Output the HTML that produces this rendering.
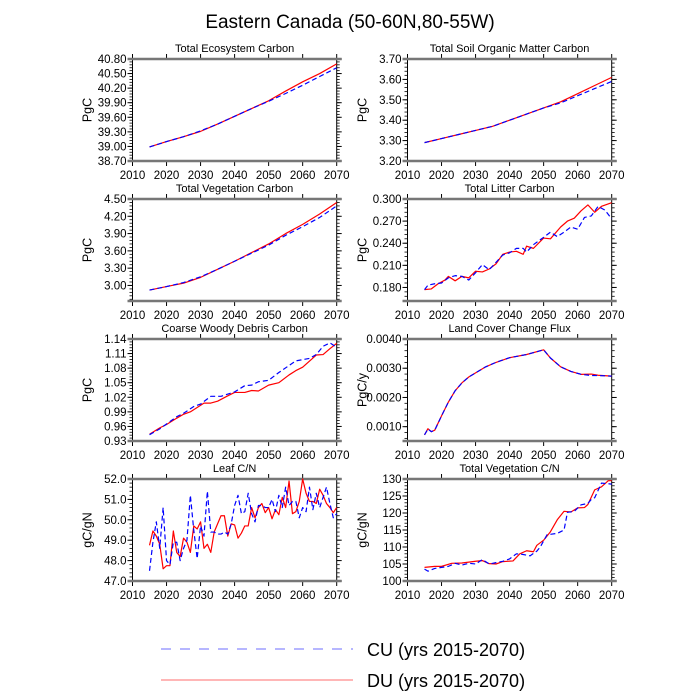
<!DOCTYPE html>
<html><head><meta charset="utf-8">
<style>
html,body{margin:0;padding:0;background:#fff;}
svg{display:block;font-family:"Liberation Sans",Arial,sans-serif;}
</style></head>
<body>
<svg id="chart" width="700" height="700" viewBox="0 0 700 700" xmlns="http://www.w3.org/2000/svg">
<text x="350" y="28" text-anchor="middle" font-size="19" fill="#000">Eastern Canada (50-60N,80-55W)</text>
<g>
<line x1="161" y1="649" x2="353" y2="649" stroke="#6c6cff" stroke-width="1" stroke-dasharray="10,9"/>
<text x="367" y="656" font-size="18">CU (yrs 2015-2070)</text>
<line x1="161" y1="680" x2="353" y2="680" stroke="#ff6c6c" stroke-width="1"/>
<text x="367" y="687" font-size="18">DU (yrs 2015-2070)</text>
</g>
</svg>
<script>
// Panel 1: Total Ecosystem Carbon
const tecYears = [2015,2020,2025,2030,2035,2040,2045,2050,2055,2060,2065,2070];
const tecDU = [38.99,39.10,39.20,39.31,39.46,39.62,39.78,39.94,40.14,40.33,40.50,40.70];
const tecCU = [38.99,39.10,39.20,39.32,39.46,39.62,39.78,39.93,40.09,40.26,40.44,40.62];
const tecTicks = ["38.70","39.00","39.30","39.60","39.90","40.20","40.50","40.80"];
// Panel 2: Total Soil Organic Matter Carbon
const somYears = [2015,2020,2025,2030,2035,2040,2045,2050,2055,2060,2065,2070];
const somDU = [3.29,3.31,3.33,3.35,3.37,3.40,3.43,3.46,3.49,3.53,3.57,3.61];
const somCU = [3.29,3.31,3.33,3.35,3.37,3.40,3.43,3.46,3.485,3.52,3.555,3.59];
const somTicks = ["3.20","3.30","3.40","3.50","3.60","3.70"];
// Panel 3: Total Vegetation Carbon
const tvcYears = [2015,2020,2025,2030,2035,2040,2045,2050,2055,2060,2065,2070];
const tvcDU = [2.92,2.98,3.04,3.14,3.28,3.42,3.57,3.72,3.90,4.06,4.24,4.44];
const tvcCU = [2.92,2.98,3.05,3.15,3.28,3.42,3.56,3.70,3.87,4.02,4.18,4.38];
const tvcTicks = ["3.00","3.30","3.60","3.90","4.20","4.50"];
// Panel 4: Total Litter Carbon
const litYearsDU = [2015,2017,2019,2021,2022,2024,2026,2028,2030,2032,2034,2036,2038,2040,2042,2044,2045,2047,2050,2052,2055,2057,2059,2061,2063,2065,2067,2070];
const litDU = [0.177,0.178,0.185,0.190,0.195,0.189,0.195,0.193,0.202,0.201,0.205,0.212,0.225,0.228,0.229,0.225,0.236,0.233,0.247,0.246,0.262,0.270,0.274,0.284,0.292,0.282,0.290,0.295];
const litYearsCU = [2015,2016,2018,2020,2022,2024,2026,2028,2030,2032,2034,2036,2038,2040,2042,2044,2045,2047,2050,2052,2054,2056,2058,2060,2062,2064,2066,2068,2070];
const litCU = [0.177,0.183,0.185,0.186,0.193,0.196,0.195,0.190,0.200,0.211,0.204,0.214,0.224,0.227,0.233,0.233,0.228,0.238,0.248,0.255,0.249,0.255,0.262,0.259,0.275,0.277,0.290,0.285,0.273];
const litTicks = ["0.180","0.210","0.240","0.270","0.300"];
// Panel 5: Coarse Woody Debris Carbon
const cwdYearsDU = [2015,2018,2020,2023,2025,2027,2031,2033,2035,2038,2040,2043,2045,2047,2050,2053,2056,2058,2060,2064,2066,2068,2070];
const cwdDU = [0.944,0.957,0.964,0.977,0.985,0.990,1.008,1.008,1.012,1.023,1.030,1.030,1.034,1.033,1.045,1.050,1.066,1.075,1.082,1.107,1.108,1.120,1.131];
const cwdYearsCU = [2015,2018,2020,2023,2025,2028,2030,2033,2036,2040,2043,2045,2047,2050,2053,2058,2062,2064,2066,2068,2070];
const cwdCU = [0.943,0.955,0.965,0.980,0.987,1.001,1.006,1.022,1.022,1.031,1.044,1.045,1.052,1.055,1.071,1.095,1.100,1.108,1.125,1.132,1.123];
const cwdTicks = ["0.93","0.96","0.99","1.02","1.05","1.08","1.11","1.14"];
// Panel 6: Land Cover Change Flux
const lccYears = [2015,2016,2017,2018,2020,2022,2024,2026,2028,2030,2033,2036,2040,2045,2050,2052,2055,2058,2061,2064,2066,2070];
const lccDU = [0.00072,0.00093,0.00083,0.00088,0.00137,0.00184,0.00223,0.00250,0.00270,0.00284,0.00305,0.00320,0.00336,0.00347,0.00363,0.00335,0.00305,0.00289,0.00279,0.00280,0.00276,0.00273];
const lccCU = [0.00072,0.00092,0.00083,0.00088,0.00137,0.00184,0.00223,0.00250,0.00270,0.00284,0.00305,0.00320,0.00336,0.00347,0.00363,0.00335,0.00305,0.00289,0.00279,0.00275,0.00275,0.00273];
const lccTicks = ["0.0010","0.0020","0.0030","0.0040"];
// Panel 7: Leaf C/N (annual 2015-2070)
const leafDU = [48.75,49.45,49.2,48.8,47.6,47.75,47.75,49.45,48.4,48.2,49.1,48.9,48.4,49.7,49.55,49.9,48.6,48.8,48.4,49.4,49.8,50.2,50.2,49.2,49.8,49.75,49.1,49.35,49.7,49.7,50.6,50.1,50.6,50.8,50.35,50.6,50.05,50.5,50.25,51.1,50.6,51.9,50.3,50.4,50.9,52.0,51.3,50.9,50.9,50.8,51.5,51.2,50.8,50.6,50.35,50.6];
const leafCU = [47.5,48.9,49.9,48.6,50.6,48.0,47.8,48.9,48.9,48.0,48.6,49.0,51.2,49.5,48.1,49.7,49.2,51.4,49.4,49.4,49.3,49.3,49.4,49.3,49.8,50.7,51.2,50.3,50.4,51.3,50.3,49.9,50.7,50.7,50.6,50.6,51.0,50.4,51.2,50.6,51.6,50.7,50.9,50.9,50.1,50.6,50.4,51.6,50.5,51.3,50.6,51.1,51.6,50.8,50.1,50.3];
const leafTicks = ["47.0","48.0","49.0","50.0","51.0","52.0"];
// Panel 8: Total Vegetation C/N
const vcnYearsDU = [2015,2018,2020,2023,2026,2030,2032,2034,2036,2038,2041,2043,2045,2047,2048,2050,2052,2054,2056,2058,2060,2062,2063,2065,2067,2069,2070];
const vcnDU = [104,104.3,104.3,105.2,105.3,105.8,106.0,105.1,105.0,105.7,105.9,108,108.9,108.6,110.5,112,114.5,118,120.5,120.3,121.5,121.6,122.5,126.8,127.7,129.5,129.5];
const vcnYearsCU = [2015,2016,2018,2020,2022,2024,2026,2028,2030,2032,2034,2036,2038,2040,2042,2044,2046,2048,2049,2051,2054,2056,2057,2059,2061,2063,2064,2065,2067,2070];
const vcnCU = [103.5,102.9,103.7,104.0,104.3,105.2,104.7,105.2,105.0,106.3,105.0,105.4,105.8,106.5,108.0,107.8,107.4,108.8,110.0,113.6,114,115,120.2,120.5,122.4,122.8,124.0,124.5,128.8,128.5];
const vcnTicks = ["100","105","110","115","120","125","130"];
const xTicks = ["2010","2020","2030","2040","2050","2060","2070"];

const NS = "http://www.w3.org/2000/svg";
const svg = document.getElementById('chart');
function mk(tag, attrs, parent){
  const e = document.createElementNS(NS, tag);
  for (const k in attrs) e.setAttribute(k, attrs[k]);
  (parent||svg).appendChild(e);
  return e;
}
const annual = []; for (let y = 2015; y <= 2070; y++) annual.push(y);

function panel(cfg){
  const x0 = cfg.left ? 132.5 : 407.5, x1 = cfg.left ? 336.7 : 611.7;
  const y0 = cfg.top, y1 = cfg.top + 102;
  const g = mk('g', {});
  
  
  const sx = v => x0 + (v - 2010) / 60 * (x1 - x0);
  const sy = v => y1 - (v - cfg.ymin) / (cfg.ymax - cfg.ymin) * (y1 - y0);
  const t = mk('text', {x: (x0 + x1) / 2, y: y0 - 7, 'text-anchor': 'middle', 'font-size': 11}, g);
  t.textContent = cfg.title;
  
  
  const yl = mk('text', {transform: `translate(${x0 - 41},${(y0 + y1) / 2}) rotate(-90)`, 'text-anchor': 'middle', 'font-size': 12.5}, g);
  yl.textContent = cfg.ylabel;
  
  
  xTicks.forEach(lbl => {
    const v = parseFloat(lbl), px = sx(v);
    mk('line', {x1: px, y1: y0, x2: px, y2: y0 - 5, stroke: '#000', 'stroke-width': 1}, g);
    mk('line', {x1: px, y1: y1, x2: px, y2: y1 + 5, stroke: '#000', 'stroke-width': 1}, g);
    const tx = mk('text', {x: px, y: y1 + 18, 'text-anchor': 'middle', 'font-size': 11.5}, g);
    tx.textContent = lbl;
    
    
  });
  const vals = cfg.ticks.map(parseFloat);
  const step = vals[1] - vals[0];
  const minor = step / 5;
  for (let v = vals[0] - step; v <= cfg.ymax + 1e-9; v += minor) {
    if (v < cfg.ymin - 1e-9) continue;
    const py = sy(v);
    mk('line', {x1: x0, y1: py, x2: x0 - 3, y2: py, stroke: '#000', 'stroke-width': 0.8}, g);
    mk('line', {x1: x1, y1: py, x2: x1 + 3, y2: py, stroke: '#000', 'stroke-width': 0.8}, g);
  }
  cfg.ticks.forEach(lbl => {
    const py = sy(parseFloat(lbl));
    mk('line', {x1: x0, y1: py, x2: x0 - 5, y2: py, stroke: '#000', 'stroke-width': 1}, g);
    mk('line', {x1: x1, y1: py, x2: x1 + 5, y2: py, stroke: '#000', 'stroke-width': 1}, g);
    const ty = mk('text', {x: x0 - 6, y: py + 4, 'text-anchor': 'end', 'font-size': 11.5}, g);
    ty.textContent = lbl;
    
    
  });
  mk('line', {x1: x0, y1: y0, x2: x0, y2: y1, stroke: '#000', 'stroke-width': 1}, g);
  mk('line', {x1: x1, y1: y0, x2: x1, y2: y1, stroke: '#000', 'stroke-width': 1}, g);
  mk('line', {x1: x0 - 5, y1: y0, x2: x1 + 5, y2: y0, stroke: '#777', 'stroke-width': 2.5}, g);
  mk('line', {x1: x0 - 5, y1: y1, x2: x1 + 5, y2: y1, stroke: '#777', 'stroke-width': 2.5}, g);
  const line = (xs, ys, color, dash, nm) => {
    const d = ys.map((v, i) => (i ? 'L' : 'M') + sx(xs[i]).toFixed(2) + ',' + sy(v).toFixed(2)).join('');
    const p = mk('path', {d: d, fill: 'none', stroke: color, 'stroke-width': 1.2, 'stroke-linejoin': 'round'}, g);
    if (dash) p.setAttribute('stroke-dasharray', '5,3');
    
    
  };
  line(cfg.duX, cfg.du, '#ff0000', false, 'du');
  line(cfg.cuX, cfg.cu, '#0000ff', true, 'cu');
}

panel({name:'total-ecosystem-carbon', title:'Total Ecosystem Carbon', ylabel:'PgC', left:true, top:59, ymin:38.7, ymax:40.8, ticks:tecTicks, duX:tecYears, du:tecDU, cuX:tecYears, cu:tecCU});
panel({name:'soil-organic-matter-carbon', title:'Total Soil Organic Matter Carbon', ylabel:'PgC', left:false, top:59, ymin:3.2, ymax:3.7, ticks:somTicks, duX:somYears, du:somDU, cuX:somYears, cu:somCU});
panel({name:'total-vegetation-carbon', title:'Total Vegetation Carbon', ylabel:'PgC', left:true, top:199, ymin:2.73, ymax:4.5, ticks:tvcTicks, duX:tvcYears, du:tvcDU, cuX:tvcYears, cu:tvcCU});
panel({name:'total-litter-carbon', title:'Total Litter Carbon', ylabel:'PgC', left:false, top:199, ymin:0.1616, ymax:0.3, ticks:litTicks, duX:litYearsDU, du:litDU, cuX:litYearsCU, cu:litCU});
panel({name:'coarse-woody-debris-carbon', title:'Coarse Woody Debris Carbon', ylabel:'PgC', left:true, top:339, ymin:0.93, ymax:1.14, ticks:cwdTicks, duX:cwdYearsDU, du:cwdDU, cuX:cwdYearsCU, cu:cwdCU});
panel({name:'land-cover-change-flux', title:'Land Cover Change Flux', ylabel:'PgC/y', left:false, top:339, ymin:0.00051, ymax:0.004, ticks:lccTicks, duX:lccYears, du:lccDU, cuX:lccYears, cu:lccCU});
panel({name:'leaf-cn', title:'Leaf C/N', ylabel:'gC/gN', left:true, top:479, ymin:47, ymax:52, ticks:leafTicks, duX:annual, du:leafDU, cuX:annual, cu:leafCU});
panel({name:'total-vegetation-cn', title:'Total Vegetation C/N', ylabel:'gC/gN', left:false, top:479, ymin:100, ymax:130, ticks:vcnTicks, duX:vcnYearsDU, du:vcnDU, cuX:vcnYearsCU, cu:vcnCU});
</script>
</body></html>
